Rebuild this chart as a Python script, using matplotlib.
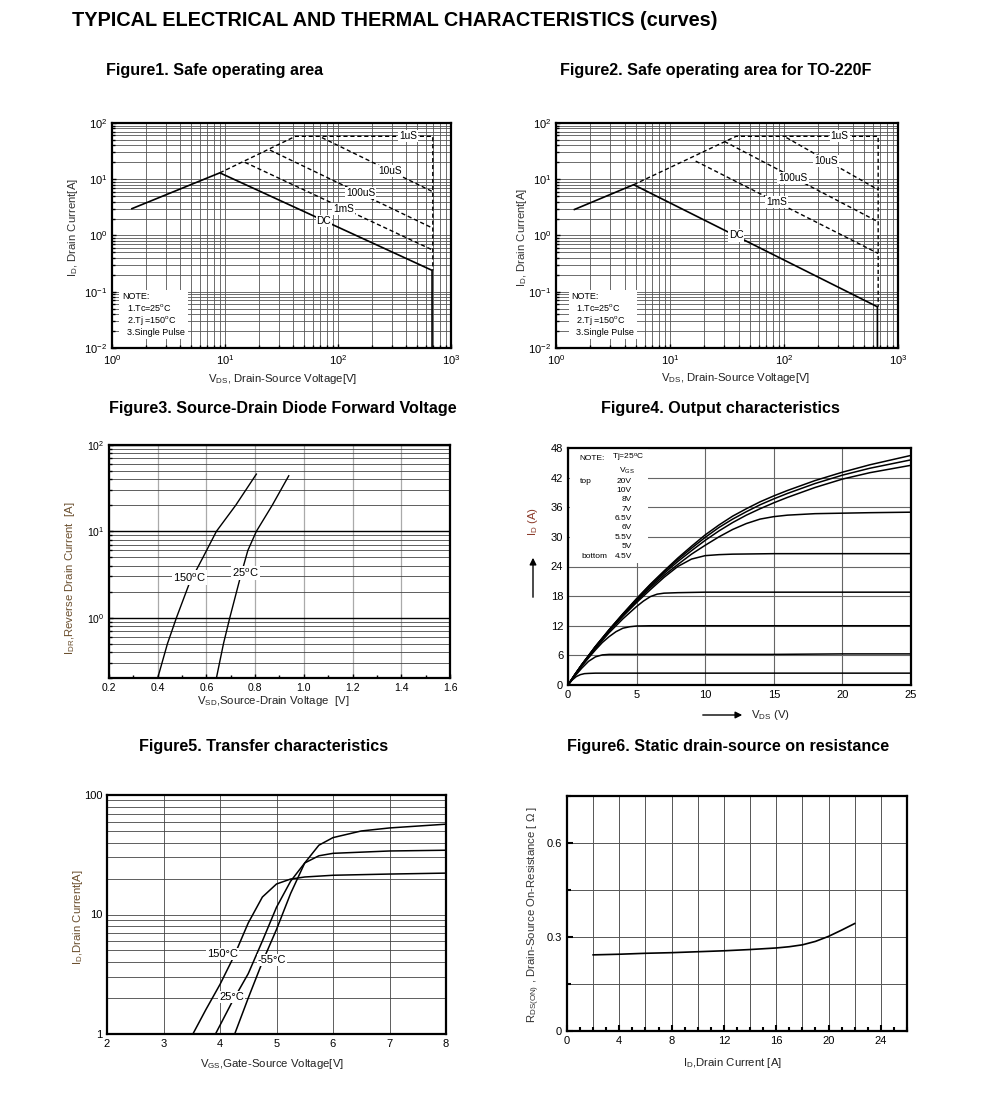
import matplotlib
matplotlib.use('Agg')
import matplotlib.pyplot as plt
from matplotlib.ticker import MultipleLocator, LogLocator, NullFormatter
from matplotlib.patches import Rectangle, FancyArrowPatch

plt.rcParams['font.family'] = ['Liberation Sans', 'DejaVu Sans']
plt.rcParams['mathtext.fontset'] = 'custom'
plt.rcParams['mathtext.rm'] = 'Liberation Sans'
plt.rcParams['mathtext.it'] = 'Liberation Sans:italic'
plt.rcParams['mathtext.bf'] = 'Liberation Sans:bold'
plt.rcParams['mathtext.default'] = 'regular'
plt.rcParams['axes.unicode_minus'] = False

# ---- Figure 1: safe operating area ----
soa1_dc_v = [1.5, 9.0, 680, 680]
soa1_dc_i = [3.0, 13.0, 0.24, 0.01]
soa1_lim_v = [9.0, 42, 690, 690]
soa1_lim_i = [13.0, 58, 58, 0.24]
soa1_10us_v = [72, 690]
soa1_10us_i = [55, 6.0]
soa1_100us_v = [25, 690]
soa1_100us_i = [33, 1.35]
soa1_1ms_v = [15, 690]
soa1_1ms_i = [20, 0.55]
soa1_labels = ['1uS', '10uS', '100uS', '1mS', 'DC']
soa1_label_v = [420, 290, 158, 112, 75]
soa1_label_i = [58, 14.0, 5.8, 3.0, 1.8]

# ---- Figure 2: safe operating area TO-220F ----
soa2_dc_v = [1.45, 4.8, 660, 660]
soa2_dc_i = [2.9, 8.0, 0.054, 0.01]
soa2_lim_v = [4.8, 38, 670, 670]
soa2_lim_i = [8.0, 58, 58, 0.054]
soa2_10us_v = [105, 670]
soa2_10us_i = [55, 6.5]
soa2_100us_v = [30, 670]
soa2_100us_i = [47, 1.75]
soa2_1ms_v = [16.8, 670]
soa2_1ms_i = [21, 0.48]
soa2_labels = ['1uS', '10uS', '100uS', '1mS', 'DC']
soa2_label_v = [308, 235, 120, 86, 38]
soa2_label_i = [58, 21.5, 10.5, 4.0, 1.0]

# ---- Figure 3: diode forward voltage ----
vsd_150 = [0.40, 0.44, 0.477, 0.53, 0.586, 0.641, 0.72, 0.805]
idr_150 = [0.2, 0.5, 1.0, 2.5, 5.0, 10, 20, 46]
vsd_25 = [0.641, 0.67, 0.696, 0.74, 0.77, 0.805, 0.87, 0.938]
idr_25 = [0.2, 0.5, 1.0, 3.0, 6.0, 10, 20, 44]

# ---- Figure 4: output characteristics ----
vds_a = [0, 0.5, 1, 2, 3, 4, 5, 6, 7, 8, 9, 10, 11, 12, 13, 14, 15, 16, 18, 20, 22, 25]
id_20v = [0, 2.1, 4.1, 7.8, 11.2, 14.4, 17.5, 20.4, 23.1, 25.7, 28.1, 30.4, 32.4, 34.2, 35.7, 37.1, 38.3, 39.4, 41.4, 43.1, 44.6, 46.5]
id_10v = [0, 2.1, 4.1, 7.8, 11.2, 14.4, 17.4, 20.3, 22.9, 25.4, 27.7, 29.9, 31.9, 33.6, 35.1, 36.5, 37.7, 38.8, 40.8, 42.5, 43.9, 45.6]
id_8v = [0, 2.1, 4.1, 7.8, 11.1, 14.3, 17.2, 20.0, 22.6, 25.0, 27.2, 29.3, 31.2, 32.9, 34.4, 35.7, 36.9, 38.0, 40.0, 41.7, 43.0, 44.5]
id_7v = [0, 2.1, 4.1, 7.7, 11.0, 14.1, 17.0, 19.7, 22.2, 24.4, 26.5, 28.3, 30.0, 31.5, 32.7, 33.6, 34.1, 34.4, 34.7, 34.8, 34.9, 35.0]
vds_65 = [0, 0.5, 1, 2, 3, 4, 5, 6, 7, 8, 9, 10, 11, 12, 15, 20, 25]
id_65v = [0, 2.1, 4.0, 7.6, 10.9, 13.9, 16.7, 19.3, 21.8, 24.0, 25.5, 26.2, 26.4, 26.5, 26.6, 26.6, 26.6]
vds_6 = [0, 0.5, 1, 2, 3, 4, 5, 5.5, 6, 6.5, 7, 8, 10, 15, 20, 25]
id_6v = [0, 2.0, 3.9, 7.4, 10.6, 13.4, 15.9, 17.0, 17.9, 18.4, 18.6, 18.7, 18.8, 18.8, 18.8, 18.8]
vds_55 = [0, 0.5, 1, 1.5, 2, 2.5, 3, 3.5, 4, 4.5, 5, 6, 10, 15, 20, 25]
id_55v = [0, 1.9, 3.8, 5.5, 7.1, 8.6, 9.8, 10.8, 11.5, 11.8, 11.95, 12.0, 12.0, 12.0, 12.0, 12.0]
vds_5 = [0, 0.5, 1, 1.5, 2, 2.5, 3, 5, 10, 15, 20, 25]
id_5v = [0, 1.8, 3.4, 4.8, 5.7, 6.1, 6.2, 6.2, 6.2, 6.2, 6.3, 6.3]
vds_45 = [0, 0.3, 0.6, 0.9, 1.2, 1.5, 2, 5, 10, 25]
id_45v = [0, 1.0, 1.7, 2.1, 2.3, 2.35, 2.4, 2.4, 2.4, 2.4]
vgs_list = ['20V', '10V', '8V', '7V', '6.5V', '6V', '5.5V', '5V', '4.5V']

# ---- Figure 5: transfer characteristics ----
vgs_150 = [3.52, 3.75, 4.0, 4.25, 4.5, 4.75, 5.0, 5.25, 5.5, 6.0, 7.0, 8.0]
id_150 = [1.0, 1.6, 2.6, 4.5, 8.5, 14, 18, 19.8, 20.6, 21.3, 21.8, 22.2]
vgs_25 = [3.92, 4.2, 4.5, 4.75, 5.0, 5.25, 5.5, 5.75, 6.0, 7.0, 8.0]
id_25 = [1.0, 1.8, 3.2, 6.0, 11.5, 19, 27, 31, 32.5, 34, 34.5]
vgs_m55 = [4.26, 4.5, 4.75, 5.0, 5.25, 5.5, 5.75, 6.0, 6.5, 7.0, 8.0]
id_m55 = [1.0, 2.0, 4.0, 7.5, 15, 27, 38, 44, 50, 53, 57]

# ---- Figure 6: on resistance ----
id_ron = [2, 4, 6, 8, 10, 12, 14, 16, 17, 18, 19, 20, 21, 22]
rds_on = [0.243, 0.245, 0.248, 0.250, 0.253, 0.256, 0.260, 0.265, 0.269, 0.275, 0.286, 0.302, 0.322, 0.343]

W, H = 991, 1116
fig = plt.figure(figsize=(W / 100, H / 100), dpi=100)


def fx(px):
    return px / W


def fy(py):
    return 1 - py / H


def add_ax(x0, y0, x1, y1):
    ax = fig.add_axes([fx(x0), fy(y1), (x1 - x0) / W, (y1 - y0) / H])
    for s in ax.spines.values():
        s.set_linewidth(1.6)
    ax.tick_params(which='both', direction='in', labelsize=7.5, width=1.0)
    ax.tick_params(which='major', length=3)
    ax.tick_params(which='minor', length=2)
    return ax


def put_labels(ax, box, xl, xp, yl, yp, ycolor='#333333'):
    x0, y0, x1, y1 = box
    ax.set_xlabel(xl, fontsize=8.2, color='#222222')
    ax.xaxis.set_label_coords((xp[0] - x0) / (x1 - x0), (y1 - xp[1]) / (y1 - y0))
    ax.xaxis.label.set_va('center')
    ax.set_ylabel(yl, fontsize=8.2, color=ycolor)
    ax.yaxis.set_label_coords((yp[0] - x0) / (x1 - x0), (y1 - yp[1]) / (y1 - y0))
    ax.yaxis.label.set_va('center')


white_box = dict(boxstyle='square,pad=0.1', fc='white', ec='none')

fig.text(fx(72), fy(20), 'TYPICAL ELECTRICAL AND THERMAL CHARACTERISTICS (curves)',
         fontsize=14.3, weight='bold', va='center', ha='left')
titles = [('Figure1. Safe operating area', 215, 71),
          ('Figure2. Safe operating area for TO-220F', 716, 71),
          ('Figure3. Source-Drain Diode Forward Voltage', 283, 409),
          ('Figure4. Output characteristics', 720, 409),
          ('Figure5. Transfer characteristics', 264, 746),
          ('Figure6. Static drain-source on resistance', 728, 746)]
for t, x, y in titles:
    fig.text(fx(x), fy(y), t, fontsize=11.6, weight='bold', ha='center', va='center')


def soa_plot(box, dc_v, dc_i, lim_v, lim_i, lines, labels, lab_v, lab_i, note_x):
    ax = add_ax(*box)
    ax.set_xscale('log')
    ax.set_yscale('log')
    ax.set_xlim(1, 1000)
    ax.set_ylim(0.01, 100)
    ax.xaxis.set_major_locator(LogLocator(base=10, numticks=5))
    ax.yaxis.set_major_locator(LogLocator(base=10, numticks=6))
    ax.xaxis.set_minor_formatter(NullFormatter())
    ax.yaxis.set_minor_formatter(NullFormatter())
    ax.tick_params(labelsize=8)
    ax.grid(which='both', color='#555555', lw=0.6)
    ax.plot(dc_v, dc_i, color='black', lw=1.2, zorder=3)
    ax.plot(lim_v, lim_i, color='black', lw=1.0, ls=(0, (3, 2)), zorder=3)
    for v, i in lines:
        ax.plot(v, i, color='black', lw=1.0, ls=(0, (3, 2)), zorder=3)
    for t, v, i in zip(labels, lab_v, lab_i):
        ax.text(v, i, t, fontsize=7.3, ha='center', va='center', bbox=white_box, zorder=4)
    ax.text(note_x, 0.05, 'NOTE:\n  1.Tc=25$^o$C\n  2.Tj =150$^o$C\n  3.Single Pulse',
            transform=ax.transAxes, fontsize=6.5, va='bottom', ha='left', linespacing=1.1,
            bbox=dict(boxstyle='square,pad=0.3', fc='white', ec='none'), zorder=4)
    return ax


box1 = (112, 123, 451, 348)
ax1 = soa_plot(box1, soa1_dc_v, soa1_dc_i, soa1_lim_v, soa1_lim_i,
               [(soa1_10us_v, soa1_10us_i), (soa1_100us_v, soa1_100us_i), (soa1_1ms_v, soa1_1ms_i)],
               soa1_labels, soa1_label_v, soa1_label_i, 0.03)
put_labels(ax1, box1, 'V$_{DS}$, Drain-Source Voltage[V]', (283, 379),
           'I$_D$, Drain Current[A]', (73, 227))

box2 = (556, 123, 898, 348)
ax2 = soa_plot(box2, soa2_dc_v, soa2_dc_i, soa2_lim_v, soa2_lim_i,
               [(soa2_10us_v, soa2_10us_i), (soa2_100us_v, soa2_100us_i), (soa2_1ms_v, soa2_1ms_i)],
               soa2_labels, soa2_label_v, soa2_label_i, 0.045)
put_labels(ax2, box2, 'V$_{DS}$, Drain-Source Voltage[V]', (736, 378),
           'I$_D$, Drain Current[A]', (522, 237))

# Figure 3
box3 = (109, 445, 450, 678)
ax3 = add_ax(*box3)
ax3.set_yscale('log')
ax3.set_xlim(0.2, 1.6)
ax3.set_ylim(0.2, 100)
ax3.xaxis.set_major_locator(MultipleLocator(0.2))
ax3.xaxis.set_minor_locator(MultipleLocator(0.1))
ax3.xaxis.set_major_formatter(plt.FuncFormatter(lambda v, p: f'{v:.1f}'))
ax3.yaxis.set_minor_formatter(NullFormatter())
ax3.grid(axis='x', which='major', color='#aaaaaa', lw=0.9)
ax3.grid(axis='y', which='minor', color='#444444', lw=0.6)
ax3.grid(axis='y', which='major', color='black', lw=1.0)
ax3.plot(vsd_150, idr_150, color='black', lw=1.0, zorder=3)
ax3.plot(vsd_25, idr_25, color='black', lw=1.0, zorder=3)
ax3.text(0.531, 2.9, '150$^o$C', fontsize=8, ha='center', va='center', bbox=white_box, zorder=4)
ax3.text(0.76, 3.3, '25$^o$C', fontsize=8, ha='center', va='center', bbox=white_box, zorder=4)
put_labels(ax3, box3, 'V$_{SD}$,Source-Drain Voltage  [V]', (273, 701),
           'I$_{DR}$,Reverse Drain Current  [A]', (70, 578), ycolor='#6b4f2e')

# Figure 4
box4 = (568, 448, 911, 685)
ax4 = add_ax(*box4)
ax4.set_xlim(0, 25)
ax4.set_ylim(0, 48)
ax4.xaxis.set_major_locator(MultipleLocator(5))
ax4.yaxis.set_major_locator(MultipleLocator(6))
ax4.tick_params(which='major', length=0, labelsize=8)
ax4.grid(color='#666666', lw=0.8)
ax4.add_patch(Rectangle((0.15, 24.8), 5.7, 23.0, fc='white', ec='none', zorder=2))
out_curves = [(vds_a, id_20v), (vds_a, id_10v), (vds_a, id_8v), (vds_a, id_7v),
              (vds_65, id_65v), (vds_6, id_6v), (vds_55, id_55v), (vds_5, id_5v), (vds_45, id_45v)]
for v, i in out_curves:
    ax4.plot(v, i, color='black', lw=1.1, zorder=3)
ax4.text(0.85, 45.9, 'NOTE:', fontsize=6, va='center', zorder=4)
ax4.text(3.2, 45.9, 'Tj=25$^o$C', fontsize=6, va='center', zorder=4)
ax4.text(4.3, 43.4, 'V$_{GS}$', fontsize=6, va='center', ha='center', zorder=4)
ax4.text(0.9, 41.3, 'top', fontsize=6, va='center', zorder=4)
ax4.text(0.95, 26.1, 'bottom', fontsize=6, va='center', zorder=4)
for k, lab in enumerate(vgs_list):
    ax4.text(4.66, 41.3 - k * 1.9, lab, fontsize=6, va='center', ha='right', zorder=4)
put_labels(ax4, box4, 'V$_{DS}$ (V)', (770, 715), 'I$_D$ (A)', (533, 521), ycolor='#8b3a2a')
fig.add_artist(FancyArrowPatch((fx(700), fy(715)), (fx(745), fy(715)),
               transform=fig.transFigure, arrowstyle='-|>', mutation_scale=10, color='black', lw=1))
fig.add_artist(FancyArrowPatch((fx(533), fy(600)), (fx(533), fy(555)),
               transform=fig.transFigure, arrowstyle='-|>', mutation_scale=10, color='black', lw=1))

# Figure 5
box5 = (107, 795, 446, 1034)
ax5 = add_ax(*box5)
ax5.set_yscale('log')
ax5.set_xlim(2, 8)
ax5.set_ylim(1, 100)
ax5.xaxis.set_major_locator(MultipleLocator(1))
ax5.set_yticks([1, 10, 100])
ax5.set_yticklabels(['1', '10', '100'])
ax5.yaxis.set_minor_formatter(NullFormatter())
ax5.tick_params(which='both', length=0, labelsize=8)
ax5.grid(which='both', color='#444444', lw=0.6)
ax5.plot(vgs_150, id_150, color='black', lw=1.1, zorder=3)
ax5.plot(vgs_25, id_25, color='black', lw=1.1, zorder=3)
ax5.plot(vgs_m55, id_m55, color='black', lw=1.1, zorder=3)
ax5.text(4.05, 4.7, '150°C', fontsize=8, ha='center', va='center', bbox=white_box, zorder=4)
ax5.text(4.92, 4.15, '-55°C', fontsize=8, ha='center', va='center', bbox=white_box, zorder=4)
ax5.text(4.21, 2.05, '25°C', fontsize=8, ha='center', va='center', bbox=white_box, zorder=4)
put_labels(ax5, box5, 'V$_{GS}$,Gate-Source Voltage[V]', (272, 1064),
           'I$_D$,Drain Current[A]', (78, 917), ycolor='#6b4f2e')

# Figure 6
box6 = (567, 796, 907, 1031)
ax6 = add_ax(*box6)
ax6.set_xlim(0, 26)
ax6.set_ylim(0, 0.75)
ax6.xaxis.set_major_locator(MultipleLocator(4))
ax6.xaxis.set_minor_locator(MultipleLocator(1))
ax6.set_yticks([0, 0.3, 0.6])
ax6.set_yticklabels(['0', '0.3', '0.6'])
ax6.yaxis.set_minor_locator(MultipleLocator(0.15))
ax6.tick_params(which='both', width=1.5, labelsize=8)
ax6.tick_params(which='major', length=4)
ax6.tick_params(which='minor', length=3)
for v in range(2, 26, 2):
    ax6.axvline(v, color='#555555', lw=0.7, zorder=1)
for v in [0.15, 0.3, 0.45, 0.6]:
    ax6.axhline(v, color='#555555', lw=0.7, zorder=1)
ax6.plot(id_ron, rds_on, color='black', lw=1.2, zorder=3)
put_labels(ax6, box6, 'I$_D$,Drain Current [A]', (733, 1063),
           'R$_{DS(ON)}$ , Drain-Source On-Resistance [ Ω ]', (534, 914))

fig.savefig('out.png', dpi=100)
